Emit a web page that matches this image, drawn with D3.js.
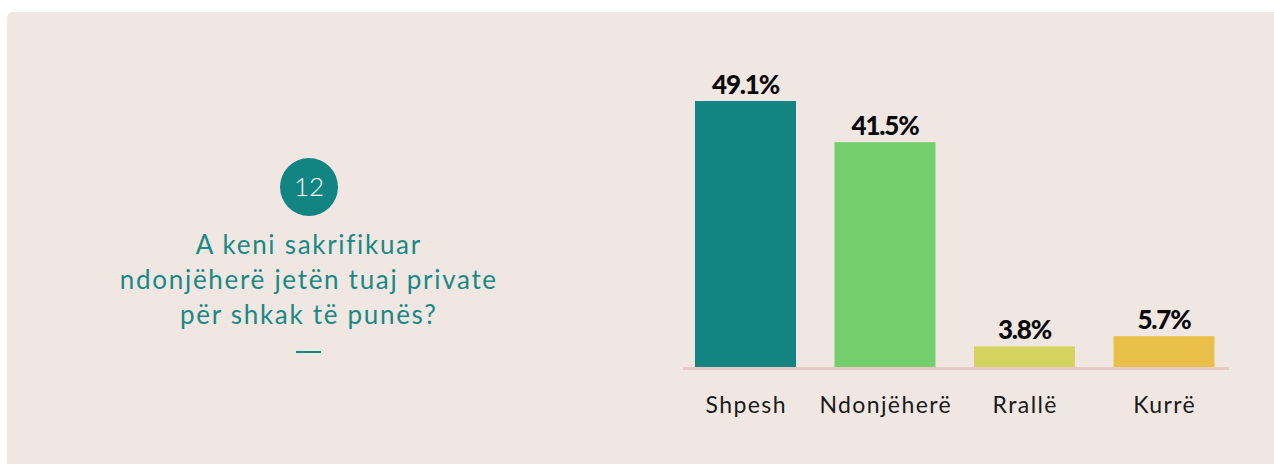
<!DOCTYPE html>
<html><head><meta charset="utf-8">
<script src="https://cdn.jsdelivr.net/npm/d3@7"></script>
<style>html,body{margin:0;padding:0;background:#fff;}svg{display:block;}</style>
</head><body>
<script>
const categories = ["Shpesh", "Ndonjëherë", "Rrallë", "Kurrë"];
const values = [49.1, 41.5, 3.8, 5.7];
const valueLabels = ["49.1%", "41.5%", "3.8%", "5.7%"];
const colors = ["#128583", "#73cf6c", "#d5d35f", "#e9c14a"];
const questionNumber = "12";
const questionLines = ["A keni sakrifikuar", "ndonjëherë jetën tuaj private", "për shkak të punës?"];

const W = 1274, H = 464;
const svg = d3.select("body").append("svg").attr("width", W).attr("height", H);

svg.append("rect").attr("x", 7).attr("y", 12).attr("width", W + 20).attr("height", H + 20)
  .attr("rx", 6).attr("fill", "#f0e7e3");

const x = d3.scaleBand().domain(categories).range([675.75, 1233.75]).paddingInner(0.276).paddingOuter(0.138);
const y = d3.scaleLinear().domain([0, 49.1]).range([367, 101]);

svg.append("line").attr("x1", 683).attr("x2", 1229).attr("y1", 368.5).attr("y2", 368.5)
  .attr("stroke", "#e6cac3").attr("stroke-width", 3);

svg.selectAll("rect.bar").data(values).join("rect").attr("class", "bar")
  .attr("x", (d, i) => x(categories[i])).attr("width", x.bandwidth())
  .attr("y", d => y(d)).attr("height", d => y(0) - y(d))
  .attr("fill", (d, i) => colors[i]);

svg.selectAll("text.val").data(values).join("text").attr("class", "val")
  .attr("x", (d, i) => x(categories[i]) + x.bandwidth() / 2)
  .attr("y", d => y(d) - 7)
  .attr("text-anchor", "middle")
  .attr("font-family", "Lato").attr("font-weight", 900).attr("font-size", 26)
  .attr("letter-spacing", -1.2)
  .attr("fill", "#0a0a0a")
  .text((d, i) => valueLabels[i]);

const xAxis = svg.append("g").attr("transform", "translate(0,370)")
  .call(d3.axisBottom(x).tickSize(0).tickPadding(0));
xAxis.select(".domain").remove();
xAxis.selectAll("text").attr("y", 43).attr("dy", 0)
  .attr("font-family", "Lato").attr("font-size", 23).attr("letter-spacing", 1.4)
  .attr("dx", 0.7).attr("fill", "#1a1a1a");

svg.append("circle").attr("cx", 309).attr("cy", 187).attr("r", 29).attr("fill", "#128583");
svg.append("text").attr("x", 309).attr("y", 196).attr("text-anchor", "middle")
  .attr("font-family", "Lato").attr("font-weight", 300).attr("font-size", 26).attr("fill", "#fff")
  .text(questionNumber);

svg.selectAll("text.q").data(questionLines).join("text").attr("class", "q")
  .attr("x", 308).attr("y", (d, i) => 254 + i * 35)
  .attr("text-anchor", "middle")
  .attr("font-family", "Lato").attr("font-size", 26).attr("letter-spacing", 1.7)
  .attr("dx", 0.85).attr("fill", "#1a8884")
  .text(d => d);

svg.append("line").attr("x1", 296).attr("x2", 321).attr("y1", 352).attr("y2", 352)
  .attr("stroke", "#128583").attr("stroke-width", 2);
</script>
</body></html>
